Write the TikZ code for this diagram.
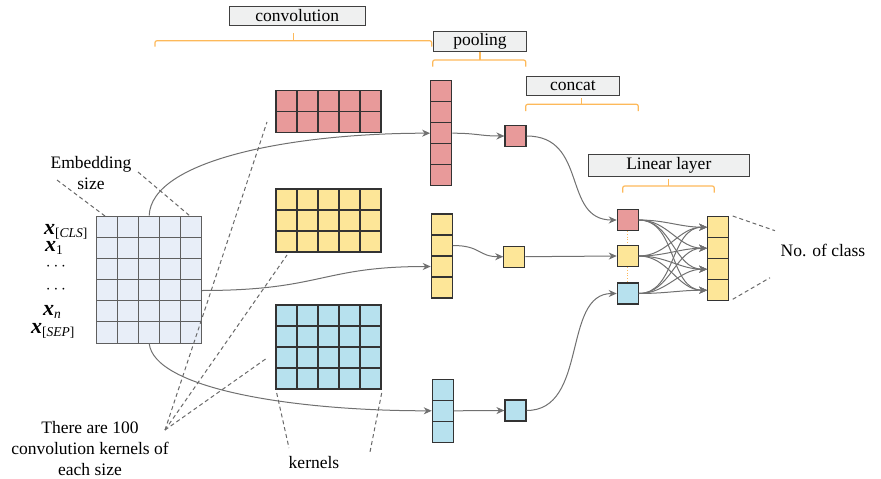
\documentclass[tikz,border=0pt]{standalone}
\usepackage{fontspec}
\setmainfont{Liberation Serif}
\usetikzlibrary{arrows.meta}
\definecolor{cred}{RGB}{232,154,154}
\definecolor{cyel}{RGB}{253,230,152}
\definecolor{cblu}{RGB}{183,225,238}
\definecolor{cemb}{RGB}{232,238,248}
\definecolor{cbox}{RGB}{239,240,240}
\definecolor{corg}{RGB}{253,185,90}
\definecolor{carr}{RGB}{112,112,112}
\definecolor{cgrid}{RGB}{95,95,95}
\definecolor{cdash}{RGB}{105,105,105}
\newcommand\bx{{\fontsize{22}{22}\selectfont\bfseries\itshape x}}
\newcommand\subx[1]{\raisebox{-3pt}{\fontsize{13.5}{14}\selectfont #1}}
\begin{document}
\begin{tikzpicture}[x=1pt,y=-1pt,
  txt/.style={font=\fontsize{17.5}{21}\selectfont, inner sep=0pt},
  mtxt/.style={inner sep=0pt},
  cell/.style={draw=black!80, line width=1.1pt, minimum width=21pt, minimum height=21pt, inner sep=0pt},
  ecell/.style={draw=cgrid, line width=1pt, fill=cemb, minimum width=21pt, minimum height=21.17pt, inner sep=0pt},
  labbox/.style={draw=black!75, line width=1pt, fill=cbox, inner sep=0pt, font=\fontsize{17.5}{21}\selectfont},
  brace/.style={draw=corg, line width=1.2pt, rounded corners=2pt},
  arr/.style={draw=carr, line width=1pt, -{Stealth[length=8pt,width=7pt,inset=2.5pt]}},
  dsh/.style={draw=cdash, line width=1pt, dash pattern=on 4pt off 3pt}]
\useasboundingbox (0,0) rectangle (881,479);

% label boxes
\node[labbox, minimum width=135.7pt, minimum height=19pt] (bconv) at (297.2,15.5) {convolution};
\node[labbox, minimum width=93.4pt, minimum height=19.3pt] (bpool) at (480,41.4) {pooling};
\node[labbox, minimum width=92.6pt, minimum height=19pt] (bcat) at (573,85.5) {concat};
\node[labbox, minimum width=161pt, minimum height=22.7pt] (blin) at (668.8,165.4) {Linear layer};

% braces
\draw[brace] (155,46.7) -- (155,40.7) -- (431.7,40.7) -- (431.7,46.7);
\draw[brace] (293.3,40.7) -- (293.3,33);
\draw[brace] (432.7,66.7) -- (432.7,60) -- (525.7,60) -- (525.7,66.7);
\draw[brace] (480,60) -- (480,52);
\draw[brace] (525.7,111) -- (525.7,104.3) -- (638.3,104.3) -- (638.3,111);
\draw[brace] (581.7,104.3) -- (581.7,98);
\draw[brace] (622.7,192.7) -- (622.7,186) -- (714.3,186) -- (714.3,192.7);
\draw[brace] (668.3,186) -- (668.3,179);

% embedding matrix
\foreach \c in {1,...,5} \foreach \r in {1,...,6}
  \node[ecell] (e-\r-\c) at ({107.2+21*(\c-1)},{226.6+21.17*(\r-1)}) {};
\node[draw=cgrid, line width=1pt, minimum width=105pt, minimum height=127pt, inner sep=0pt] (emb) at (149.2,279.5) {};

% kernels
\foreach \c in {1,...,5} \foreach \r in {1,2}
  \node[cell, fill=cred] (kr-\r-\c) at ({286.5+21*(\c-1)},{101.2+21*(\r-1)}) {};
\foreach \c in {1,...,5} \foreach \r in {1,2,3}
  \node[cell, fill=cyel] (ky-\r-\c) at ({286.5+21*(\c-1)},{199.5+21*(\r-1)}) {};
\foreach \c in {1,...,5} \foreach \r in {1,...,4}
  \node[cell, fill=cblu] (kb-\r-\c) at ({286.5+21*(\c-1)},{315.5+21*(\r-1)}) {};

% pooled columns
\foreach \r in {1,...,5} \node[cell, fill=cred] (pr\r) at (441.2,{91.2+21*(\r-1)}) {};
\foreach \r in {1,...,4} \node[cell, fill=cyel] (py\r) at (441.8,{224.5+21*(\r-1)}) {};
\foreach \r in {1,...,3} \node[cell, fill=cblu] (pb\r) at (442.8,{389.8+21*(\r-1)}) {};

% pooled squares
\node[cell, fill=cred] (sr) at (515.5,136) {};
\node[cell, fill=cyel] (sy) at (514.3,256.7) {};
\node[cell, fill=cblu] (sb) at (515.5,410.5) {};

% concat
\node[cell, fill=cred] (cr) at (627.8,220) {};
\node[cell, fill=cyel] (cy) at (627.8,256) {};
\node[cell, fill=cblu] (cb) at (627.8,293.5) {};
\draw[corg, dotted, line width=0.8pt] (cr.south) -- (cy.north);
\draw[corg, dotted, line width=0.8pt] (cy.south) -- (cb.north);

% output
\foreach \r in {1,...,4} \node[cell, fill=cyel] (o\r) at (718.2,{227.2+21*(\r-1)}) {};

% arrows
\draw[arr] (emb.north) .. controls +(2,-55) and +(-140,0) .. (pr3.west);
\draw[arr] ([yshift=-11pt]emb.east) .. controls +(120,0) and +(-110,0) .. (py3.west);
\draw[arr] (emb.south) .. controls +(5,45) and +(-140,0) .. (pb2.west);
\draw[arr] (pr3.east) .. controls +(25,0) and +(-25,0) .. (sr.west);
\draw[arr] (py2.east) .. controls +(28,0) and +(-25,0) .. (sy.west);
\draw[arr] (pb2.east) -- (sb.west);
\draw[arr] (sr.east) .. controls +(62,0) and +(-55,0) .. (cr.west);
\draw[arr] (sy.east) -- (cy.west);
\draw[arr] (sb.east) .. controls +(62,0) and +(-55,0) .. (cb.west);
\foreach \s in {cr,cy,cb} \foreach \o in {1,...,4}
  \draw[arr] (\s.east) to[out=0,in=180] (o\o.west);

% texts
\node[txt, align=center] (embtxt) at (91,173) {Embedding\\size};
\node[mtxt, anchor=base west] (xcls) at (44,234.5) {\bx\subx{[\textit{CLS}]}};
\node[mtxt, anchor=base west] (x1) at (45,251.5) {\bx\subx{1}};
\node[txt] (d1) at (56,267) {$\cdots$};
\node[txt] (d2) at (56,290) {$\cdots$};
\node[mtxt, anchor=base west] (xn) at (43,315) {\bx\subx{\textit{n}}};
\node[mtxt, anchor=base west] (xsep) at (31,333) {\bx\subx{[\textit{SEP}]}};
\node[txt] (ncls) at (823,250) {No. of class};
\node[txt] (kern) at (314,463) {kernels};
\node[txt, align=center] (there) at (90,449) {There are 100\\convolution kernels of\\each size};

% dashed guide lines
\coordinate (ea) at (57,180); \coordinate (eb) at (105,216);
\coordinate (ec) at (138,172); \coordinate (ed) at (190,216);
\draw[dsh] (ea) -- (eb);
\draw[dsh] (ec) -- (ed);
\coordinate (foc) at (165,430);
\coordinate (t1) at (267,122); \coordinate (t2) at (287,255); \coordinate (t3) at (267,358);
\draw[dsh] (foc) -- (t1);
\draw[dsh] (foc) -- (t2);
\draw[dsh] (foc) -- (t3);
\coordinate (k1) at (276.7,393); \coordinate (k2) at (289,448);
\coordinate (k3) at (381.7,393); \coordinate (k4) at (370,452);
\draw[dsh] (k1) -- (k2);
\draw[dsh] (k3) -- (k4);
\coordinate (n1) at (732.7,216); \coordinate (n2) at (775,230.7);
\coordinate (n3) at (732.7,299.3); \coordinate (n4) at (770,277.7);
\draw[dsh] (n1) -- (n2);
\draw[dsh] (n3) -- (n4);
\end{tikzpicture}
\end{document}
